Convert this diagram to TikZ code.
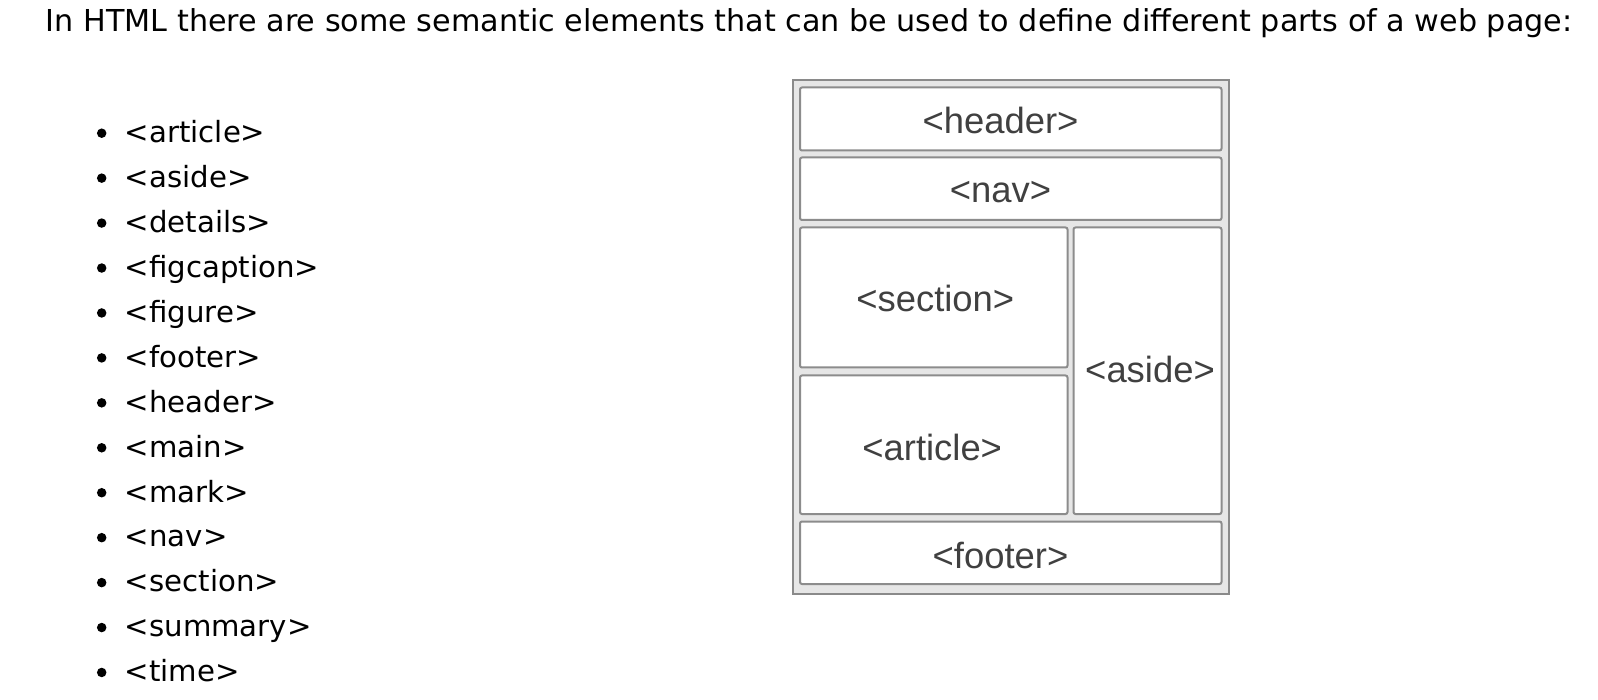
\documentclass[tikz,border=0pt]{standalone}
\usepackage{fontspec}
\setmainfont{DejaVu Sans}
\newfontfamily\boxfont{Liberation Sans}
\definecolor{outerfill}{HTML}{E6E6E6}
\definecolor{outerline}{HTML}{8A8A8A}
\definecolor{innerline}{HTML}{8C8C8C}
\definecolor{boxtext}{HTML}{404040}
\begin{document}
\begin{tikzpicture}[x=1pt,y=-1pt,
  txt/.style={inner sep=0pt, anchor=base west, font=\fontsize{29.2}{34}\selectfont, text=black},
  bul/.style={circle, fill=black, inner sep=0pt, minimum size=9.5pt},
  pbox/.style={draw=innerline, fill=white, line width=2pt, rounded corners=2pt, inner sep=0pt},
  plabel/.style={inner sep=0pt, font=\boxfont\fontsize{36.4}{40}\selectfont, text=boxtext}
]
\useasboundingbox (0,0) rectangle (1598,700);
\fill[white] (0,0) rectangle (1598,700);

\node[txt, font=\fontsize{30.2}{36}\selectfont] (title) at (45.7,31.7) {In HTML there are some semantic elements that can be used to define different parts of a web page:};

\foreach \t [count=\i from 0] in {article,aside,details,figcaption,figure,footer,header,main,mark,nav,section,summary,time}{
  \node[bul] (b\i) at (101.7,{142.5+44.94*\i-9.3}) {};
  \node[txt] (li\i) at (124.7,{142.5+44.94*\i}) {<\t>};
}

% layout diagram
\node[draw=outerline, fill=outerfill, line width=2pt, minimum width=436.5pt, minimum height=514pt, inner sep=0pt] (page) at (1010.75,337) {};
\node[pbox, minimum width=421.5pt, minimum height=63pt] (header) at (1010.75,119) {};
\node[pbox, minimum width=421.5pt, minimum height=62.5pt] (nav) at (1010.75,188.75) {};
\node[pbox, minimum width=267.5pt, minimum height=140pt] (section) at (933.75,297.5) {};
\node[pbox, minimum width=267.5pt, minimum height=138.5pt] (article) at (933.75,444.75) {};
\node[pbox, minimum width=148pt, minimum height=286.5pt] (aside) at (1147.5,370.75) {};
\node[pbox, minimum width=421.5pt, minimum height=62.5pt] (footer) at (1010.75,552.75) {};

\node[plabel] (headerlbl) at (1000.5,120) {<header>};
\node[plabel] (navlbl) at (1000.5,191.8) {<nav>};
\node[plabel] (sectionlbl) at (935.3,298.5) {<section>};
\node[plabel] (articlelbl) at (932.2,447.8) {<article>};
\node[plabel] (asidelbl) at (1150,369.7) {<aside>};
\node[plabel] (footerlbl) at (1000.5,555.8) {<footer>};
\end{tikzpicture}
\end{document}
